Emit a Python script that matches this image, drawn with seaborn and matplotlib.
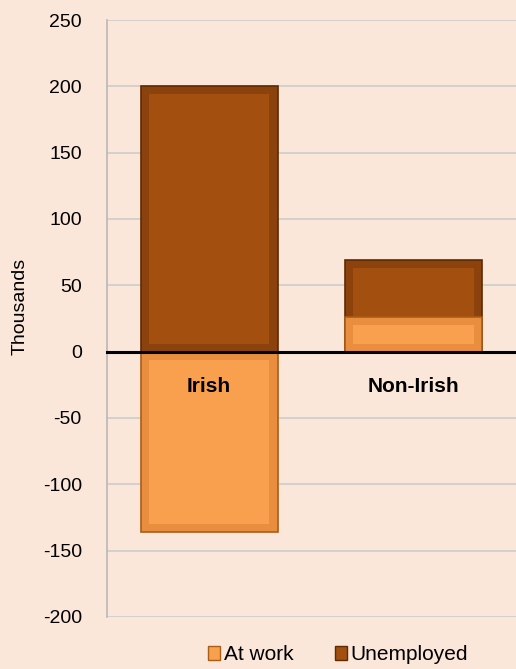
import pandas as pd
import matplotlib.pyplot as plt
import seaborn as sns
from matplotlib.patches import Patch, Rectangle

categories = ["Irish", "Non-Irish"]
at_work = [-136, 26]
unemployed = [200, 43]
yticks = [-200, -150, -100, -50, 0, 50, 100, 150, 200, 250]

bg = "#fbe6da"
c_work = "#f9a04f"
c_unemp = "#a24f10"

df = pd.DataFrame({"category": categories, "at_work": at_work, "unemployed": unemployed})
# positive stack height: unemployed sits on top of any positive at-work value
df["top"] = df["at_work"].clip(lower=0) + df["unemployed"]

sns.set_style("white")
plt.rcParams["font.family"] = ["Liberation Sans", "DejaVu Sans"]
plt.rcParams["text.color"] = "black"

fig = plt.figure(figsize=(5.16, 6.69), dpi=100, facecolor=bg)
ax = fig.add_axes([0.207, 0.078, 0.793, 0.892], facecolor=bg)

ax.grid(axis="y", color="#cccccc", linewidth=1.2, zorder=0)
ax.set_axisbelow(True)

# bars drawn in a darker "bevel" shade, inner face added below
sns.barplot(data=df, x="category", y="top", color="#8c420c", width=0.67,
            edgecolor="#5e2a00", linewidth=1.2, saturation=1, ax=ax, zorder=2)
sns.barplot(data=df, x="category", y="at_work", color="#e88e3e", width=0.67,
            edgecolor="#a85d18", linewidth=1.2, saturation=1, ax=ax, zorder=3)

# rough bevel look: inner face inset from each bar edge
for p in list(ax.patches):
    x0, w, h = p.get_x(), p.get_width(), p.get_height()
    if h == 0:
        continue
    y0 = min(p.get_y(), p.get_y() + h)
    hh = abs(h)
    dx, dy = 0.04, min(6, hh * 0.22)
    face = c_unemp if p.get_zorder() == 2 else c_work
    ax.add_patch(Rectangle((x0 + dx, y0 + dy), w - 2 * dx, hh - 2 * dy,
                           facecolor=face, edgecolor="none", zorder=p.get_zorder() + 0.1))

ax.set_xlim(-0.5, 1.5)
ax.set_ylim(-200, 250)
ax.set_yticks(yticks)
ax.set_yticklabels([str(v) for v in yticks], fontsize=14, color="black")
ax.set_ylabel("Thousands", fontsize=14, color="black")
ax.yaxis.set_label_coords(-0.19, 0.52)
ax.set_xlabel("")

for s in ["top", "right"]:
    ax.spines[s].set_visible(False)
ax.spines["left"].set_color("#b8b8b8")
ax.spines["left"].set_linewidth(1.2)
ax.spines["bottom"].set_position(("data", 0))
ax.spines["bottom"].set_color("black")
ax.spines["bottom"].set_linewidth(2.2)
ax.spines["bottom"].set_zorder(5)

ax.tick_params(axis="y", length=5, color="#b8b8b8", width=1.2, pad=13, direction="out")
ax.set_xticks([])
ax.set_xticks([-0.5, 0.5, 1.5], minor=True)
ax.tick_params(axis="x", which="minor", length=5, width=1.5, color="black", direction="out")

for i, cat in enumerate(categories):
    ax.text(i, -26, cat, ha="center", va="center", fontsize=15,
            fontweight="bold", color="black", zorder=10)

handles = [Patch(facecolor=c_work, edgecolor="#a85d18"),
           Patch(facecolor=c_unemp, edgecolor="#5e2a00")]
fig.legend(handles, ["At work", "Unemployed"], loc="center",
           bbox_to_anchor=(0.655, 0.021), ncol=2, frameon=False, fontsize=15,
           handlelength=0.6, handleheight=0.6, handletextpad=0.15, columnspacing=2.0)

fig.savefig("out.png", dpi=100, facecolor=bg)
